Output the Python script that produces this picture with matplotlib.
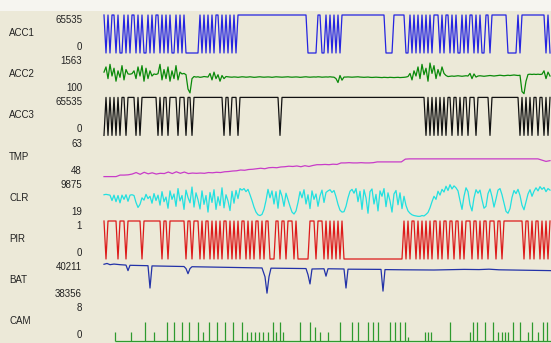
import numpy as np
import matplotlib
matplotlib.use("Agg")
import matplotlib.pyplot as plt
from matplotlib.patches import Rectangle

H = 65535

# ---- sensor data (minutes 0..446, most channels sampled every 2 min) ----
acc1 = [H, 0, H, 0, H, H, 0, H, 0, 0, H, 0, H, 0, H, H, 0, H, 0, H, 0, 0, H, 0, H, 0, H, H, 0, H,
        0, H, 0, H, 0, 0, H, 0, H, 0, H,
        0, 0, 0, 0, 0, 0, 0,
        H, 0, H, 0, H, 0, H, 0, H, H, 0, H, 0, H, 0, H, 0, H, 0,
        H, H, H, H, H, H, H, H, H, H, H, H, H, H, H, H, H, H, H, H, H, H, H, H, H, H, H, H, H, H,
        H, H, H, H, H,
        0, 0, 0, 0, 0, H, H, 0, 0, H, 0, H, 0, H, 0, H, 0,
        H, H, H, H, H, H, H, H, H, H, H, H, H, H, H, H, H, H, H, H, H, H,
        0, 0, 0, 0, H, H, H, H, H, H,
        0, 0, H, 0, H, 0, H, 0, H, 0, H, 0, H, 0, H, H, H,
        0, H, 0, H, H, 0, H, 0, H, 0, 0, H, 0, H, 0, H, H, 0, H, 0, H,
        0, 0, H, H, 0, H, H, H, H, H, H, H,
        H, 0, 0, 0, 0, 0, H, 0, H,
        H, H, H, H, H, H, H, H, H, H, H, 0, H, 0]

acc2 = [950, 1150, 700, 1250, 800, 1100, 600, 1000, 750, 1200, 650, 1050, 880, 870, 890, 1000,
        700, 1150, 800, 1200, 600, 1100, 700, 1000, 800, 880, 860, 890, 1250, 650, 1050, 700,
        1150, 600, 1000, 700, 1200, 650, 950, 880, 900, 850,
        300, 150, 700,
        780, 760, 770, 750, 760, 780, 770, 760,
        900, 650, 950, 700, 850, 600, 820, 700, 780,
        770, 760, 755, 765, 760, 750, 760, 770, 765, 755, 760, 770, 760, 750, 755, 765, 770, 760,
        755, 760, 765, 760, 750, 760, 770, 765, 760, 755, 760, 765, 770, 760, 755, 760, 765, 760,
        750, 755, 765, 770, 760, 755, 760, 765, 760, 770, 765, 755, 760, 765, 760, 770, 760, 755,
        700, 550, 820, 640, 760,
        760, 765, 760, 755, 760, 765, 770, 760, 755, 750, 755, 760, 750, 745, 750, 755, 750, 745,
        740, 750, 745, 740, 750, 745, 740, 745, 750, 740, 745, 750, 760, 780,
        900, 650, 1000, 800, 1150, 700, 1250, 850, 1100, 600, 1300, 900, 1200, 700, 1050, 800,
        1150, 900, 820, 780,
        790, 800, 790, 800, 810, 800, 790, 800, 810, 800,
        900, 700, 880, 760,
        800, 810, 800, 790, 800, 810, 820, 810, 800, 810, 820, 830, 820, 810, 820, 830, 820, 830,
        840, 830, 820, 830,
        200, 120, 600,
        860, 870, 860, 870, 860, 870, 860, 870,
        1000, 700, 950, 800]

acc3 = [0, H, 0, H, 0, H, 0, H, 0, H, H, 0, H, H, H, H, 0, H, 0, H, H, H, H, H, H, H, H, 0, H, 0,
        H, H, 0, H, H, H, H, 0, H, H, H, 0, H, H, 0, H,
        H, H, H, H, H, H, H, H, H, H, H, H, H, H,
        0, H, H, 0, H, H, H, 0, H,
        H, H, H, H, H, H, H, H, H, H, H, H, H, H, H, H, H, H,
        H, 0, H,
        H, H, H, H, H, H, H, H, H, H, H, H, H, H, H, H, H, H, H, H, H, H, H, H, H, H, H, H, H, H,
        H, H, H, H, H, H, H, H, H, H, H, H, H, H, H, H, H, H, H, H, H, H, H, H, H, H, H, H, H, H,
        H, H, H, H, H, H, H, H, H, H, H,
        0, H, 0, H, 0, H, 0, H, 0, H, 0,
        H, H, 0, H, H, 0, H, 0, H, H, 0, H, H, H, 0, H,
        H, H, H, H, H, 0, H,
        H, H, H, H, H, H, H, H, H, H, H, H, H,
        0, H, 0, H, 0, H, 0,
        H, H, 0, H, H, 0, H, 0, H]

# temperature, sampled every 4 min
tmp = [48.0, 48.0, 48.0, 48.0, 48.6, 48.6, 48.7,
       49.0, 49.6, 48.9, 49.7, 49.1, 49.5, 49.0, 49.3,
       49.2, 49.8, 49.2, 49.9, 49.3, 49.8, 49.2, 49.4,
       49.3, 49.4, 49.3, 49.6, 49.5, 49.7, 49.6, 49.9,
       50.0, 50.2, 50.3, 50.6, 50.5, 50.8, 50.9, 51.1,
       51.3, 51.1, 51.5, 51.6, 51.5, 51.8, 51.9, 52.1,
       52.0, 52.2, 51.9, 52.3, 52.0, 52.4, 52.7,
       52.7, 52.8, 52.7, 52.9, 52.8,
       53.4, 53.4, 53.5, 53.4, 53.4, 53.5, 53.4, 53.4, 53.5,
       53.8, 53.8, 53.8, 53.8, 53.8, 53.8, 53.8,
       54.9,
       55.0, 55.0, 55.0, 55.0, 55.0, 55.0, 55.0, 55.0, 55.0, 55.0, 55.0, 55.0, 55.0, 55.0, 55.0,
       55.0, 55.0, 55.0, 55.0, 55.0, 55.0, 55.0, 55.0, 55.0, 55.0, 55.0, 55.0, 55.0, 55.0, 55.0,
       55.0, 55.0, 55.0,
       54.5, 54.0, 54.3]

clr = [6000, 6100, 6000, 5900, 4500, 5900, 4200, 5800, 3900, 5900, 4800, 6000, 4300, 5900, 6000, 5800,
       4000, 2700, 3500,
       5200, 4600, 6100, 5000, 5600, 3800, 6300, 4500, 5900, 3300, 6800, 4200, 5400, 2500, 7000,
       4800, 6200, 3000, 7600, 4400, 5800, 2200, 7200, 5300, 3900, 8000, 2800, 6500, 4700, 2300,
       7000, 3500, 5800, 1500, 6600, 4000, 7300, 2200, 5500, 3200, 7800, 2600, 6000, 4400, 1900,
       6900, 3800, 7100, 5000, 7600,
       7200, 7600, 6800, 7400, 6000,
       4500, 2800, 1500, 800, 600, 900, 2200, 4500,
       7400, 5200, 7000, 3600, 6800, 2500, 7200, 5600, 3000, 6400, 4700,
       3000, 1500, 1000, 1800, 4000,
       6800, 5200, 7300, 3600, 6000, 2400, 7000, 4800, 6200, 3000, 5700, 7200, 4000, 6600,
       7000, 7300, 6600, 7100, 5500, 3500, 2000, 1500,
       1600, 3000, 5200, 6900, 7400,
       6400, 7600, 4200, 6900, 2200, 7300, 5200, 1200, 6800, 7500, 3600, 6100, 1800, 7000,
       5600, 7600, 2900, 6500, 4400, 1500, 6200, 7100,
       3400, 6500, 2400, 5600, 3200,
       1800, 1200, 800, 600, 500, 400, 400, 600, 500, 900, 1400, 2600,
       4200, 5600, 4800, 6900, 5900, 7400, 6700, 8200, 7100, 8600, 7500, 8300, 7800,
       7000, 4500, 2200, 5600, 7800, 6800, 3400, 1800, 5200, 7300,
       6400, 7200, 4700, 2500, 3000, 6300, 7500, 5500, 2800, 4900,
       7200, 7600, 6000, 3800, 1700, 1200, 2400, 5300, 7100, 6300, 7400, 5800, 3300, 2100, 4200,
       6200, 7300, 5600, 6900, 7800, 7000, 8100, 7400, 7900, 6800, 7600, 7200]

pir = [1, 0, 1, 1, 1, 1, 1, 0, 1, 1, 1, 0, 1, 1, 1, 1, 1, 1, 1, 0, 1, 1, 1, 1, 1, 1, 1, 1, 1, 0,
       1, 1, 0, 1, 1, 1, 1, 1, 1, 1, 1, 0, 1, 1, 0, 1, 1, 1,
       0, 1, 0, 1, 1, 0, 1, 0, 1, 0, 1, 0, 1, 1, 0, 1, 0, 1, 0, 1, 0, 1, 1,
       0, 1, 0, 1, 0, 1, 1, 0, 1, 0, 1, 1, 0,
       0, 0, 1, 1, 0, 1, 1, 0, 1, 1, 1, 0,
       1, 0, 0, 0, 0, 0, 0, 1,
       1, 1, 0, 1, 1, 1, 0, 1,
       0, 1, 0, 1, 0, 1, 0, 1,
       0, 0, 0, 0, 0, 0, 0, 0, 0, 0, 0, 0, 0, 0, 0, 0, 0, 0, 0, 0, 0, 0, 0, 0, 0, 0, 0, 0, 0, 0,
       1, 0, 1, 0, 1, 1, 0, 1, 0, 1, 0, 1, 0, 1, 0, 1, 1, 0, 1, 0, 1,
       1, 0, 1, 1, 0, 1, 1, 0, 1, 0, 1,
       1, 1, 0, 1, 1, 0, 1, 0, 1, 1, 0, 1, 1,
       1, 0, 1, 1, 0, 1,
       1, 1, 1, 1, 1, 1, 1, 1, 1,
       0, 1, 1, 0, 1, 0, 1, 1, 0, 1, 0, 1, 0, 1]

# battery, irregular samples
bat_t = [0, 3, 6, 10, 16, 22, 24, 26, 44, 46, 48, 80, 82, 84, 86, 88, 158, 161, 163, 165, 167,
         202, 204, 206, 208, 220, 222, 224, 240, 242, 244, 277, 279, 281,
         300, 330, 360, 375, 385, 395, 420, 447]
bat_v = [40110, 40150, 40090, 40120, 40090, 40070, 39800, 40060, 40040, 38950, 40030, 40000,
         39900, 39650, 39900, 39990, 39930, 39500, 38700, 39500, 39920, 39900, 39600, 39150,
         39880, 39890, 39530, 39890, 39880, 38950, 39870, 39860, 38800, 39850,
         39840, 39830, 39860, 39850, 39870, 39840, 39820, 39800]

# camera triggers
cam_t = [11, 27, 41, 50, 63, 70, 78, 85, 94, 99, 105, 113, 121, 129, 138, 143, 147, 151, 155, 159,
         164, 169, 172, 176, 179, 196, 206, 211, 216, 224, 236, 248, 254, 264, 269, 274, 286,
         291, 296, 301, 304, 321, 324, 327, 346, 366, 369, 373, 381, 389, 394, 398, 401, 404,
         409, 416, 424, 428, 434, 439, 443]
cam_v = [2, 2, 4, 2, 4, 4, 4, 4, 4, 2, 4, 4, 4, 4, 4, 2, 2, 2, 2, 2, 2, 4, 2, 4, 2, 4, 4, 3, 2, 2,
         4, 4, 4, 4, 4, 4, 4, 4, 4, 4, 1, 2, 2, 2, 4, 2, 4, 4, 4, 4, 2, 2, 2, 2, 4, 4, 2, 4, 2,
         4, 4]

names = ["ACC1", "ACC2", "ACC3", "TMP", "CLR", "PIR", "BAT", "CAM"]
lows = [0, 100, 0, 48, 19, 0, 38356, 0]
highs = [65535, 1563, 65535, 63, 9875, 1, 40211, 8]
colors = ["#2424e0", "#0a8a0a", "#111111", "#c83cc8", "#22e0e0", "#dd1a1a", "#2232a8", "#2e9a2e"]

W, HT = 551, 343
T_END = 446

plt.rcParams['font.family'] = ['Liberation Sans', 'DejaVu Sans']
fig = plt.figure(figsize=(W / 100, HT / 100), dpi=100)
fig.patch.set_facecolor("#ece9d8")
fig.add_artist(Rectangle((0, 1 - 11 / HT), 1, 11 / HT, transform=fig.transFigure,
                         facecolor="#f6f5f0", edgecolor="none", zorder=0))

axes = []
for k in range(8):
    top = 15 + 41.2 * k
    ax = fig.add_axes([104 / W, 1 - (top + 38) / HT, (W - 104) / W, 38 / HT])
    ax.set_axis_off()
    ax.set_xlim(0, T_END + 1)
    ax.set_ylim(lows[k], highs[k])
    axes.append(ax)
    fig.text(9 / W, 1 - (top + 18) / HT, names[k], ha="left", va="center",
             fontsize=7, color="#222222")
    fig.text(82 / W, 1 - (top + 5) / HT, str(highs[k]), ha="right", va="center",
             fontsize=7, color="#222222")
    fig.text(82 / W, 1 - (top + 32) / HT, str(lows[k]), ha="right", va="center",
             fontsize=7, color="#222222")

dense = {0: acc1, 1: acc2, 2: acc3, 3: tmp, 4: clr, 5: pir}
for k, series in dense.items():
    t = np.linspace(0, T_END, len(series))
    axes[k].plot(t, series, color=colors[k], lw=0.9, clip_on=False)

axes[6].plot(bat_t, bat_v, color=colors[6], lw=0.9, clip_on=False)

axes[7].vlines(cam_t, 0, cam_v, color=colors[7], lw=0.9, clip_on=False)
axes[7].hlines(0, cam_t[0], T_END + 1, color=colors[7], lw=0.9, clip_on=False)

fig.savefig("out.png", dpi=100, facecolor=fig.get_facecolor())
